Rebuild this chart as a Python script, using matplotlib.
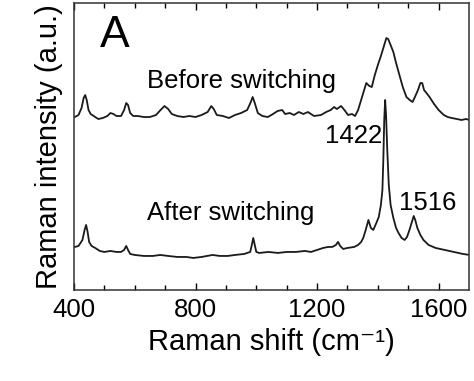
import matplotlib
matplotlib.use('Agg')
import matplotlib.pyplot as plt

plt.rcParams['font.family'] = ['Liberation Sans', 'DejaVu Sans']

# spectra (wavenumber in cm-1, intensity in a.u.)
before_shift = [403, 415, 425, 432, 437, 442, 448, 455, 465, 480, 495, 510,
                520, 530, 540, 555, 565, 572, 578, 585, 595, 610, 630, 650,
                670, 685, 698, 710, 722, 740, 760, 780, 800, 820, 840, 852,
                860, 870, 890, 910, 930, 950, 970, 982, 988, 995, 1005, 1020,
                1038, 1055, 1070, 1085, 1095, 1110, 1124, 1140, 1155, 1170,
                1190, 1213, 1230, 1245, 1256, 1265, 1279, 1290, 1302, 1315,
                1325, 1335, 1345, 1355, 1362, 1372, 1380, 1390, 1400, 1410,
                1420, 1428, 1434, 1442, 1451, 1460, 1471, 1482, 1494, 1505,
                1514, 1522, 1532, 1540, 1546, 1552, 1560, 1570, 1585, 1600,
                1617, 1630, 1643, 1660, 1675, 1690, 1702]
before_int = [183, 185, 192, 202, 205, 200, 190, 186, 184, 181, 182, 184,
              187, 186, 184, 184, 190, 197, 195, 187, 184, 184, 183, 183,
              185, 190, 194, 191, 186, 184, 183, 184, 183, 185, 188, 194,
              191, 185, 184, 182, 185, 187, 190, 198, 203, 197, 187, 184,
              183, 186, 189, 190, 186, 187, 185, 188, 186, 188,
              184, 185, 188, 190, 193, 191, 194, 190, 185, 186,
              184, 190, 200, 210, 217, 214, 213, 225, 235, 244,
              254, 262, 261, 255, 248, 237, 225, 213, 203, 200,
              198, 203, 210, 217, 217, 210, 207, 203, 196, 190,
              185, 183, 182, 181, 180, 181, 180]

after_shift = [403, 415, 428, 435, 440, 445, 450, 458, 470, 485, 500, 520,
               540, 555, 565, 572, 578, 585, 600, 630, 660, 684, 710, 740,
               770, 793, 820, 856, 880, 906, 930, 960, 980, 986, 990, 995,
               1000, 1010, 1040, 1071, 1100, 1130, 1160, 1180, 1200, 1220,
               1236, 1250, 1262, 1269, 1276, 1286, 1300, 1322, 1335, 1345,
               1352, 1360, 1369, 1377, 1385, 1395, 1403, 1410, 1415, 1418,
               1421, 1424, 1427, 1431, 1436, 1442, 1451, 1460, 1468, 1478,
               1488, 1496, 1504, 1512, 1518, 1523, 1530, 1540, 1550, 1567,
               1590, 1620, 1650, 1680, 1702]
after_int = [53, 54, 60, 70, 75, 68, 58, 54, 52, 49, 48, 49,
             48, 48, 50, 54, 50, 46, 45, 44, 44, 45, 44, 43,
             43, 42, 43, 45, 44, 44, 45, 46, 48, 56, 62, 55,
             48, 47, 48, 47, 48, 48, 49, 48, 50, 52,
             53, 53, 55, 58, 54, 51, 52, 53, 55, 58,
             62, 70, 80, 72, 70, 77, 83, 95, 110, 140,
             180, 200, 185, 150, 115, 95, 82, 72, 67, 62,
             60, 63, 70, 78, 84, 80, 72, 65, 60, 55,
             52, 50, 48, 46, 45]

labels = ['Before switching', 'After switching']
peaks = ['1422', '1516']

fig = plt.figure(figsize=(4.74, 3.81), dpi=100)
ax = fig.add_axes([0.156, 0.239, 0.8335, 0.753])

ax.plot(before_shift, before_int, '-', color='#1a1a1a', linewidth=1.3)
ax.plot(after_shift, after_int, '-', color='#1a1a1a', linewidth=1.3)

ax.text(486, 253, 'A', fontsize=32, va='baseline', ha='left')
ax.text(641, 212, labels[0], fontsize=18.5, va='baseline', ha='left')
ax.text(641, 80, labels[1], fontsize=18.5, va='baseline', ha='left')
ax.text(1413, 157, peaks[0], fontsize=18.5, va='baseline', ha='right')
ax.text(1471, 90, peaks[1], fontsize=18.5, va='baseline', ha='left')

ax.set_xlim(400, 1700)
ax.set_ylim(10, 297)
ax.set_xticks([400, 800, 1200, 1600])
ax.set_xticks(range(500, 1700, 100), minor=True)
ax.set_yticks([])
ax.tick_params(axis='x', which='both', direction='in', top=True,
               labelsize=18.5, pad=6)
ax.tick_params(axis='x', which='major', length=5, width=1)
ax.tick_params(axis='x', which='minor', length=3.5, width=1)
for s in ax.spines.values():
    s.set_linewidth(1.1)
    s.set_color('#333333')

ax.set_xlabel('Raman shift (cm\u207b\u00b9)', fontsize=21, labelpad=4)
ax.set_ylabel('Raman intensity (a.u.)', fontsize=21, labelpad=8)

fig.savefig('out.png', dpi=100)
